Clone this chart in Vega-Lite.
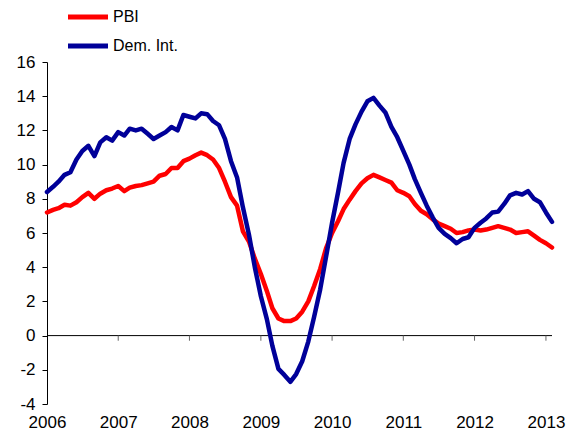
{
  "$schema": "https://vega.github.io/schema/vega-lite/v6.json",
  "width": 505,
  "height": 342,
  "autosize": {"type": "none"},
  "padding": {"left": 47, "top": 62, "right": 19, "bottom": 29},
  "background": "white",
  "config": {
    "view": {"stroke": null},
    "font": "Liberation Sans",
    "axisY": {"tickCount": 11, "labelOverlap": false, "labelExpr": "'' + datum.value"}
  },
  "datasets": {
    "series": [
      {"d": "2006-01-01", "PBI": 7.2, "DI": 8.4},
      {"d": "2006-02-01", "PBI": 7.35, "DI": 8.7},
      {"d": "2006-03-01", "PBI": 7.45, "DI": 9.0},
      {"d": "2006-04-01", "PBI": 7.65, "DI": 9.4},
      {"d": "2006-05-01", "PBI": 7.6, "DI": 9.55},
      {"d": "2006-06-01", "PBI": 7.8, "DI": 10.3},
      {"d": "2006-07-01", "PBI": 8.1, "DI": 10.8},
      {"d": "2006-08-01", "PBI": 8.35, "DI": 11.1},
      {"d": "2006-09-01", "PBI": 8.0, "DI": 10.5},
      {"d": "2006-10-01", "PBI": 8.3, "DI": 11.3},
      {"d": "2006-11-01", "PBI": 8.5, "DI": 11.6},
      {"d": "2006-12-01", "PBI": 8.6, "DI": 11.4},
      {"d": "2007-01-01", "PBI": 8.75, "DI": 11.9},
      {"d": "2007-02-01", "PBI": 8.45, "DI": 11.7},
      {"d": "2007-03-01", "PBI": 8.65, "DI": 12.1},
      {"d": "2007-04-01", "PBI": 8.75, "DI": 12.0},
      {"d": "2007-05-01", "PBI": 8.8, "DI": 12.1},
      {"d": "2007-06-01", "PBI": 8.9, "DI": 11.8},
      {"d": "2007-07-01", "PBI": 9.0, "DI": 11.5},
      {"d": "2007-08-01", "PBI": 9.35, "DI": 11.7},
      {"d": "2007-09-01", "PBI": 9.45, "DI": 11.9},
      {"d": "2007-10-01", "PBI": 9.8, "DI": 12.2},
      {"d": "2007-11-01", "PBI": 9.8, "DI": 12.0},
      {"d": "2007-12-01", "PBI": 10.2, "DI": 12.9},
      {"d": "2008-01-01", "PBI": 10.35, "DI": 12.8},
      {"d": "2008-02-01", "PBI": 10.55, "DI": 12.7},
      {"d": "2008-03-01", "PBI": 10.7, "DI": 13.0},
      {"d": "2008-04-01", "PBI": 10.55, "DI": 12.95},
      {"d": "2008-05-01", "PBI": 10.3, "DI": 12.55},
      {"d": "2008-06-01", "PBI": 9.8, "DI": 12.3},
      {"d": "2008-07-01", "PBI": 9.0, "DI": 11.5},
      {"d": "2008-08-01", "PBI": 8.1, "DI": 10.2},
      {"d": "2008-09-01", "PBI": 7.6, "DI": 9.25},
      {"d": "2008-10-01", "PBI": 6.1, "DI": 7.5},
      {"d": "2008-11-01", "PBI": 5.5, "DI": 5.9},
      {"d": "2008-12-01", "PBI": 4.5, "DI": 4.0},
      {"d": "2009-01-01", "PBI": 3.6, "DI": 2.3},
      {"d": "2009-02-01", "PBI": 2.6, "DI": 0.95},
      {"d": "2009-03-01", "PBI": 1.6, "DI": -0.6},
      {"d": "2009-04-01", "PBI": 1.0, "DI": -1.95},
      {"d": "2009-05-01", "PBI": 0.85, "DI": -2.3},
      {"d": "2009-06-01", "PBI": 0.85, "DI": -2.7},
      {"d": "2009-07-01", "PBI": 1.0, "DI": -2.25},
      {"d": "2009-08-01", "PBI": 1.4, "DI": -1.5},
      {"d": "2009-09-01", "PBI": 2.0, "DI": -0.35},
      {"d": "2009-10-01", "PBI": 2.9, "DI": 1.1},
      {"d": "2009-11-01", "PBI": 3.9, "DI": 2.7},
      {"d": "2009-12-01", "PBI": 5.1, "DI": 4.6},
      {"d": "2010-01-01", "PBI": 6.0, "DI": 6.6},
      {"d": "2010-02-01", "PBI": 6.7, "DI": 8.4},
      {"d": "2010-03-01", "PBI": 7.4, "DI": 10.1},
      {"d": "2010-04-01", "PBI": 7.95, "DI": 11.5},
      {"d": "2010-05-01", "PBI": 8.45, "DI": 12.35},
      {"d": "2010-06-01", "PBI": 8.9, "DI": 13.1},
      {"d": "2010-07-01", "PBI": 9.2, "DI": 13.7},
      {"d": "2010-08-01", "PBI": 9.4, "DI": 13.9},
      {"d": "2010-09-01", "PBI": 9.25, "DI": 13.45},
      {"d": "2010-10-01", "PBI": 9.1, "DI": 13.05},
      {"d": "2010-11-01", "PBI": 8.95, "DI": 12.2},
      {"d": "2010-12-01", "PBI": 8.5, "DI": 11.6},
      {"d": "2011-01-01", "PBI": 8.35, "DI": 10.8},
      {"d": "2011-02-01", "PBI": 8.15, "DI": 10.0},
      {"d": "2011-03-01", "PBI": 7.7, "DI": 9.15},
      {"d": "2011-04-01", "PBI": 7.3, "DI": 8.35},
      {"d": "2011-05-01", "PBI": 7.1, "DI": 7.6},
      {"d": "2011-06-01", "PBI": 6.8, "DI": 6.9},
      {"d": "2011-07-01", "PBI": 6.55, "DI": 6.3},
      {"d": "2011-08-01", "PBI": 6.4, "DI": 5.95},
      {"d": "2011-09-01", "PBI": 6.25, "DI": 5.7},
      {"d": "2011-10-01", "PBI": 6.0, "DI": 5.4},
      {"d": "2011-11-01", "PBI": 6.05, "DI": 5.65},
      {"d": "2011-12-01", "PBI": 6.15, "DI": 5.75},
      {"d": "2012-01-01", "PBI": 6.2, "DI": 6.3},
      {"d": "2012-02-01", "PBI": 6.15, "DI": 6.6},
      {"d": "2012-03-01", "PBI": 6.2, "DI": 6.85},
      {"d": "2012-04-01", "PBI": 6.3, "DI": 7.2},
      {"d": "2012-05-01", "PBI": 6.4, "DI": 7.25},
      {"d": "2012-06-01", "PBI": 6.3, "DI": 7.7},
      {"d": "2012-07-01", "PBI": 6.2, "DI": 8.2},
      {"d": "2012-08-01", "PBI": 6.0, "DI": 8.35},
      {"d": "2012-09-01", "PBI": 6.05, "DI": 8.25},
      {"d": "2012-10-01", "PBI": 6.1, "DI": 8.45},
      {"d": "2012-11-01", "PBI": 5.85, "DI": 8.0},
      {"d": "2012-12-01", "PBI": 5.6, "DI": 7.8},
      {"d": "2013-01-01", "PBI": 5.4, "DI": 7.2},
      {"d": "2013-02-01", "PBI": 5.15, "DI": 6.65}
    ],
    "ticks": [
      {"d": "2007-01-01"}, {"d": "2008-01-01"}, {"d": "2009-01-01"}, {"d": "2010-01-01"},
      {"d": "2011-01-01"}, {"d": "2012-01-01"}, {"d": "2013-01-01"}
    ]
  },
  "layer": [
    {
      "data": {"values": [{}]},
      "mark": {"type": "rule", "color": "black", "strokeWidth": 1},
      "encoding": {
        "y": {
          "datum": 0,
          "type": "quantitative",
          "title": null,
          "scale": {"domain": [-4, 16], "nice": false, "zero": false},
          "axis": {
            "values": [-4, -2, 0, 2, 4, 6, 8, 10, 12, 14, 16],
            "labelExpr": "'' + datum.value",
            "labelOverlap": false,
            "grid": false,
            "domainColor": "black",
            "tickColor": "black",
            "tickSize": 5,
            "labelFontSize": 17,
            "labelFont": "Liberation Sans",
            "labelColor": "black",
            "labelPadding": 7
          }
        }
      }
    },
    {
      "data": {"name": "ticks"},
      "mark": {"type": "rule", "color": "#666666", "strokeWidth": 1},
      "encoding": {
        "x": {"field": "d", "type": "temporal", "title": null},
        "y": {
          "datum": 0,
          "type": "quantitative",
          "title": null,
          "axis": {
            "values": [-4, -2, 0, 2, 4, 6, 8, 10, 12, 14, 16],
            "labelExpr": "'' + datum.value",
            "labelOverlap": false,
            "grid": false,
            "domainColor": "black",
            "tickColor": "black",
            "tickSize": 5,
            "labelFontSize": 17,
            "labelFont": "Liberation Sans",
            "labelColor": "black",
            "labelPadding": 7
          }
        },
        "y2": {"datum": -0.3}
      }
    },
    {
      "data": {"name": "series"},
      "transform": [{"fold": ["PBI", "DI"], "as": ["series", "value"]}],
      "mark": {"type": "line", "strokeWidth": 4.5, "strokeJoin": "round", "strokeCap": "round"},
      "encoding": {
        "x": {
          "field": "d",
          "type": "temporal",
          "title": null,
          "scale": {"type": "utc", "domain": ["2006-01-01", "2013-02-01"], "nice": false},
          "axis": {
            "format": "%Y",
            "tickCount": {"interval": "year", "step": 1},
            "domain": false,
            "ticks": false,
            "grid": false,
            "labelFontSize": 17,
            "labelFont": "Liberation Sans",
            "labelColor": "black",
            "labelPadding": 10,
            "labelFlush": false,
            "labelOverlap": false
          }
        },
        "y": {
          "field": "value",
          "type": "quantitative",
          "title": null,
          "scale": {"domain": [-4, 16], "nice": false, "zero": false},
          "axis": {
            "values": [-4, -2, 0, 2, 4, 6, 8, 10, 12, 14, 16],
            "labelExpr": "'' + datum.value",
            "labelOverlap": false,
            "grid": false,
            "domainColor": "black",
            "tickColor": "black",
            "tickSize": 5,
            "labelFontSize": 17,
            "labelFont": "Liberation Sans",
            "labelColor": "black",
            "labelPadding": 7
          }
        },
        "color": {
          "field": "series",
          "type": "nominal",
          "scale": {"domain": ["PBI", "DI"], "range": ["#ff0000", "#000099"]},
          "legend": {
            "orient": "none",
            "legendX": 33,
            "legendY": -53,
            "title": null,
            "symbolType": "M-4,0H4",
            "symbolSize": 100,
            "symbolStrokeWidth": 5,
            "symbolFillColor": "transparent",
            "labelFontSize": 16,
            "labelFont": "Liberation Sans",
            "labelColor": "black",
            "labelOffset": 17,
            "rowPadding": 9,
            "labelExpr": "datum.label == 'DI' ? 'Dem. Int.' : datum.label"
          }
        }
      }
    }
  ]
}
